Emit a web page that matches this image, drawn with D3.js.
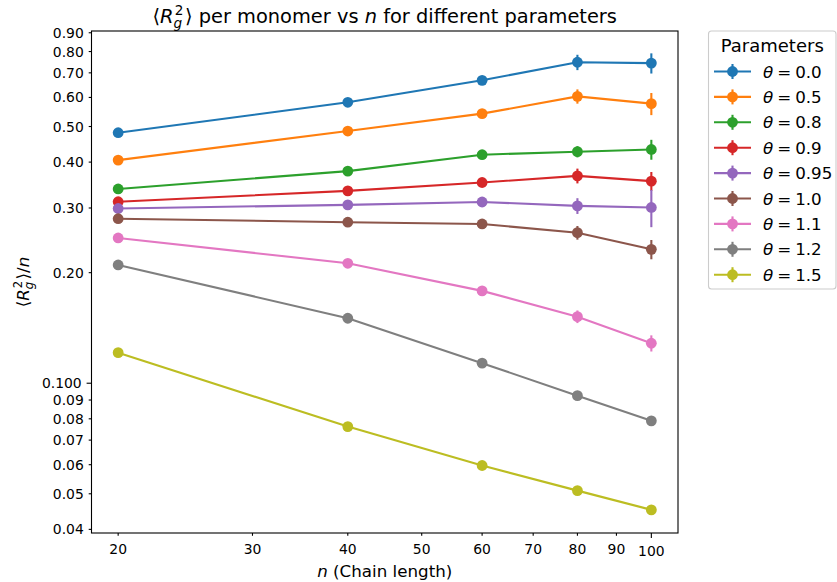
<!DOCTYPE html>
<html>
<head>
<meta charset="utf-8">
<script src="https://cdn.jsdelivr.net/npm/d3@7"></script>
<style>
  body { margin: 0; background: #fff; }
  text { font-family: "DejaVu Sans", sans-serif; fill: #000; }
</style>
</head>
<body>
<svg id="chart" width="837" height="582"></svg>
<script>
// Chain lengths sampled for every parameter value
const chainLengths = [20, 40, 60, 80, 100];

// Parameter values (theta) shown in the legend
const thetaLabels = ["0.0", "0.5", "0.8", "0.9", "0.95", "1.0", "1.1", "1.2", "1.5"];

// Mean <Rg^2>/n for each theta, one value per chain length
const rgTheta00  = [0.481, 0.582, 0.668, 0.748, 0.744];
const rgTheta05  = [0.405, 0.486, 0.542, 0.604, 0.577];
const rgTheta08  = [0.338, 0.378, 0.419, 0.427, 0.433];
const rgTheta09  = [0.312, 0.334, 0.352, 0.367, 0.355];
const rgTheta095 = [0.299, 0.306, 0.3115, 0.304, 0.301];
const rgTheta10  = [0.2805, 0.2744, 0.2714, 0.257, 0.2315];
const rgTheta11  = [0.2486, 0.2121, 0.1784, 0.1518, 0.1285];
const rgTheta12  = [0.2099, 0.1503, 0.1134, 0.0925, 0.0790];
const rgTheta15  = [0.1211, 0.0762, 0.0597, 0.0510, 0.0452];

// Standard errors of the means above
const errTheta00  = [0.004, 0.006, 0.010, 0.036, 0.047];
const errTheta05  = [0.003, 0.005, 0.009, 0.027, 0.040];
const errTheta08  = [0.002, 0.004, 0.008, 0.015, 0.027];
const errTheta09  = [0.002, 0.004, 0.007, 0.017, 0.021];
const errTheta095 = [0.002, 0.004, 0.008, 0.015, 0.035];
const errTheta10  = [0.002, 0.003, 0.007, 0.011, 0.014];
const errTheta11  = [0.001, 0.002, 0.003, 0.006, 0.0065];
const errTheta12  = [0.0005, 0.001, 0.0012, 0.0015, 0.0015];
const errTheta15  = [0.0003, 0.0005, 0.0006, 0.0006, 0.0008];

// Tick positions and labels
const xTickValues = [20, 30, 40, 50, 60, 70, 80, 90, 100];
const xMajorTicks = [100];
const yTickValues = [0.04, 0.05, 0.06, 0.07, 0.08, 0.09, 0.1, 0.2, 0.3, 0.4, 0.5, 0.6, 0.7, 0.8, 0.9];
const yMajorTicks = [0.1];
const yTickLabels = ["0.04", "0.05", "0.06", "0.07", "0.08", "0.09", "0.100", "0.20", "0.30", "0.40", "0.50", "0.60", "0.70", "0.80", "0.90"];

const seriesColors = ["#1f77b4", "#ff7f0e", "#2ca02c", "#d62728", "#9467bd",
                      "#8c564b", "#e377c2", "#7f7f7f", "#bcbd22"];

const meanSeries = [rgTheta00, rgTheta05, rgTheta08, rgTheta09, rgTheta095,
                    rgTheta10, rgTheta11, rgTheta12, rgTheta15];
const errSeries = [errTheta00, errTheta05, errTheta08, errTheta09, errTheta095,
                   errTheta10, errTheta11, errTheta12, errTheta15];

const series = thetaLabels.map((label, i) => ({
  label,
  color: seriesColors[i],
  points: chainLengths.map((n, j) => ({ n, v: meanSeries[i][j], e: errSeries[i][j] }))
}));

// ---- layout ----
const plot = { left: 91.5, right: 678, top: 31, bottom: 533 };
const tickFont = 13.9;
const majorLen = 4.9, minorLen = 2.8, tickPad = 4.9;

const svg = d3.select("#chart");

// Log x-axis with 5% padding (in log space) around the sampled range
const xPad = 0.05 * Math.log10(d3.max(chainLengths) / d3.min(chainLengths));
const x = d3.scaleLog()
  .domain([d3.min(chainLengths) / Math.pow(10, xPad), d3.max(chainLengths) * Math.pow(10, xPad)])
  .range([plot.left, plot.right]);

const y = d3.scaleLog()
  .domain([0.0391, 0.910])
  .range([plot.bottom, plot.top]);

// ---- axes ----
const xAxisG = svg.append("g");
xTickValues.forEach(t => {
  const major = xMajorTicks.includes(t);
  const len = major ? majorLen : minorLen;
  const px = x(t);
  xAxisG.append("line")
    .attr("x1", px).attr("x2", px)
    .attr("y1", plot.bottom).attr("y2", plot.bottom + len)
    .attr("stroke", "#000").attr("stroke-width", 1.1);
  xAxisG.append("text")
    .attr("x", px)
    .attr("y", plot.bottom + len + tickPad + 0.928 * tickFont)
    .attr("text-anchor", "middle")
    .attr("font-size", tickFont)
    .text(d3.format("d")(t));
});

const yAxisG = svg.append("g");
yTickValues.forEach((t, i) => {
  const major = yMajorTicks.includes(t);
  const len = major ? majorLen : minorLen;
  const py = y(t);
  yAxisG.append("line")
    .attr("x1", plot.left - len).attr("x2", plot.left)
    .attr("y1", py).attr("y2", py)
    .attr("stroke", "#000").attr("stroke-width", 1.1);
  yAxisG.append("text")
    .attr("x", plot.left - len - tickPad)
    .attr("y", py)
    .attr("dy", "0.36em")
    .attr("text-anchor", "end")
    .attr("font-size", tickFont)
    .text(yTickLabels[i]);
});

// ---- series ----
const line = d3.line().x(d => x(d.n)).y(d => y(d.v));
const dataG = svg.append("g");
series.forEach(s => {
  const g = dataG.append("g");
  g.append("path")
    .attr("d", line(s.points))
    .attr("fill", "none")
    .attr("stroke", s.color)
    .attr("stroke-width", 2.1);
  g.selectAll("line.err")
    .data(s.points)
    .join("line")
    .attr("class", "err")
    .attr("x1", d => x(d.n)).attr("x2", d => x(d.n))
    .attr("y1", d => y(d.v - d.e)).attr("y2", d => y(d.v + d.e))
    .attr("stroke", s.color)
    .attr("stroke-width", 2.1);
  g.selectAll("circle")
    .data(s.points)
    .join("circle")
    .attr("cx", d => x(d.n)).attr("cy", d => y(d.v))
    .attr("r", 5.4)
    .attr("fill", s.color);
});

// ---- frame ----
svg.append("rect")
  .attr("x", plot.left).attr("y", plot.top)
  .attr("width", plot.right - plot.left).attr("height", plot.bottom - plot.top)
  .attr("fill", "none").attr("stroke", "#000").attr("stroke-width", 1.1);

// Writes <R_g^2> with a stacked subscript and superscript
function appendRg(textSel, fs) {
  textSel.append("tspan").text("\u27E8");
  textSel.append("tspan").attr("font-style", "italic").text("R");
  const sub = textSel.append("tspan")
    .attr("font-style", "italic")
    .attr("font-size", fs * 0.7)
    .attr("dy", fs * 0.22)
    .text("g");
  const gw = sub.node().getComputedTextLength();
  const sup = textSel.append("tspan")
    .attr("font-size", fs * 0.7)
    .attr("dx", -gw + fs * 0.06)
    .attr("dy", -fs * 0.22 - fs * 0.42)
    .text("2");
  const tw = sup.node().getComputedTextLength();
  textSel.append("tspan")
    .attr("dy", fs * 0.42)
    .attr("dx", Math.max(0, gw - tw - fs * 0.06) + fs * 0.08)
    .text("\u27E9");
}

// ---- title ----
const titleFs = 19.4;
const title = svg.append("text")
  .attr("x", (plot.left + plot.right) / 2)
  .attr("y", 23.3)
  .attr("text-anchor", "middle")
  .attr("font-size", titleFs);
appendRg(title, titleFs);
title.append("tspan").text(" per monomer vs ");
title.append("tspan").attr("font-style", "italic").text("n");
title.append("tspan").text(" for different parameters");

// ---- axis labels ----
const labelFs = 16.7;
const xLabel = svg.append("text")
  .attr("x", (plot.left + plot.right) / 2)
  .attr("y", 576.5)
  .attr("text-anchor", "middle")
  .attr("font-size", labelFs);
xLabel.append("tspan").attr("font-style", "italic").text("n");
xLabel.append("tspan").text(" (Chain length)");

const yLabel = svg.append("text")
  .attr("transform", `translate(29,${(plot.top + plot.bottom) / 2}) rotate(-90)`)
  .attr("text-anchor", "middle")
  .attr("font-size", labelFs);
appendRg(yLabel, labelFs);
yLabel.append("tspan").text("/");
yLabel.append("tspan").attr("font-style", "italic").text("n");

// ---- legend ----
const legend = { left: 708.5, top: 31, right: 836, bottom: 289, firstRow: 71.5, rowStep: 25.4 };
const legendG = svg.append("g");
legendG.append("rect")
  .attr("x", legend.left).attr("y", legend.top)
  .attr("width", legend.right - legend.left).attr("height", legend.bottom - legend.top)
  .attr("rx", 3).attr("ry", 3)
  .attr("fill", "#fff").attr("fill-opacity", 0.8)
  .attr("stroke", "#cccccc").attr("stroke-width", 1.1);
legendG.append("text")
  .attr("x", (legend.left + legend.right) / 2)
  .attr("y", 51.5)
  .attr("text-anchor", "middle")
  .attr("font-size", 18)
  .text("Parameters");

const legendFs = 16.7;
series.forEach((s, i) => {
  const cy = legend.firstRow + i * legend.rowStep;
  const row = legendG.append("g");
  row.append("line")
    .attr("x1", 714).attr("x2", 751)
    .attr("y1", cy).attr("y2", cy)
    .attr("stroke", s.color).attr("stroke-width", 2.1);
  row.append("line")
    .attr("x1", 732.5).attr("x2", 732.5)
    .attr("y1", cy - 7.5).attr("y2", cy + 7.5)
    .attr("stroke", s.color).attr("stroke-width", 2.1);
  row.append("circle")
    .attr("cx", 732.5).attr("cy", cy).attr("r", 5.4)
    .attr("fill", s.color);
  const t = row.append("text")
    .attr("x", 763)
    .attr("y", cy + 6)
    .attr("font-size", legendFs);
  t.append("tspan").attr("font-style", "italic").text("\u03B8");
  t.append("tspan").attr("dx", 4).text("=");
  t.append("tspan").attr("dx", 4).text(s.label);
});
</script>
</body>
</html>
